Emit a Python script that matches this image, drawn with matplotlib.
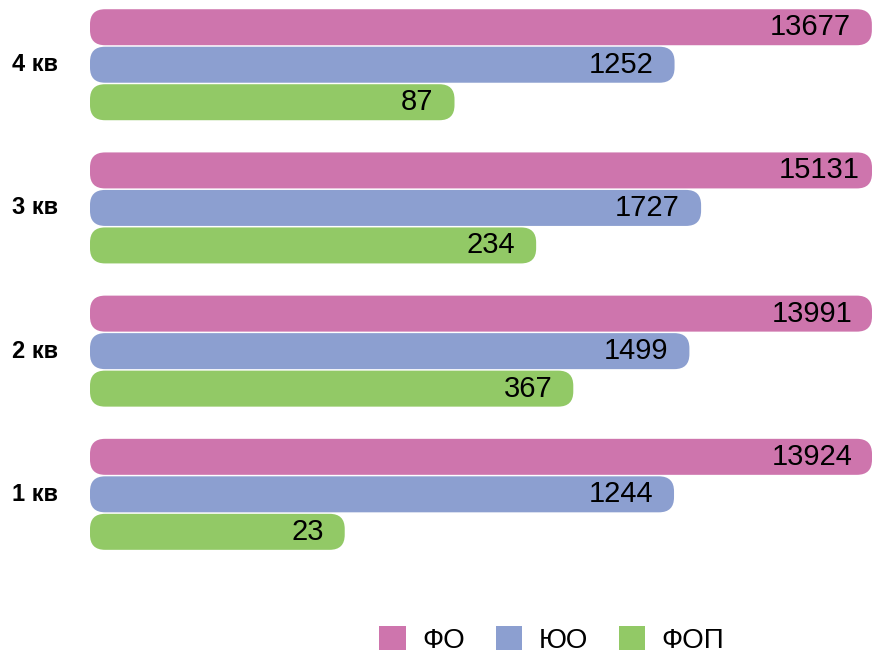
import matplotlib.pyplot as plt
from matplotlib.patches import FancyBboxPatch, Patch
from matplotlib.transforms import IdentityTransform

# quarterly counts, bottom to top
quarters = ['1 кв', '2 кв', '3 кв', '4 кв']
fo = [13924, 13991, 15131, 13677]
yuo = [1244, 1499, 1727, 1252]
fop = [23, 367, 234, 87]

series_names = ['ФО', 'ЮО', 'ФОП']
colors = ['#CE75AD', '#8C9FD0', '#92C966']

plt.rcParams['font.family'] = ['Liberation Sans', 'DejaVu Sans']

fig = plt.figure(figsize=(8.72, 6.55), dpi=100)
ax = fig.add_axes([90 / 872, 0, 1 - 90 / 872, 1])
ax.set_xscale('log')
ax.set_xlim(1.05, 13700)
ax.set_ylim(-1.122, 3.452)
ax.axis('off')

pitch = 37.5 / 143.2
height = 36 / 143.2
offsets = [pitch, 0, -pitch]
x0 = ax.get_xlim()[0]

bars = []
for vals, off, c in zip([fo, yuo, fop], offsets, colors):
    ys = [i + off for i in range(len(quarters))]
    cont = ax.barh(ys, [v - x0 for v in vals], left=x0, height=height, color=c)
    bars.append(cont)
    for v, y in zip(vals, ys):
        ax.annotate(str(v), xy=(v, y), xytext=(-21, 0), textcoords='offset pixels',
                    ha='right', va='center', fontsize=21, color='black',
                    annotation_clip=False, zorder=5)

# swap plain bars for rounded ones (in pixel space)
fig.canvas.draw()
right = ax.get_window_extent().x1
for cont in bars:
    for b in cont:
        bb = b.get_window_extent()
        x1 = min(bb.x1, right)
        rp = FancyBboxPatch((bb.x0, bb.y0), x1 - bb.x0, bb.height,
                            boxstyle='round,pad=0,rounding_size=15',
                            facecolor=b.get_facecolor(), edgecolor='none',
                            transform=IdentityTransform(), zorder=2, clip_on=False)
        ax.add_artist(rp)
        b.set_visible(False)

# quarter labels on the left
for i, q in enumerate(quarters):
    y_fig = fig.transFigure.inverted().transform(ax.transData.transform((1, i)))[1]
    fig.text(12 / 872, y_fig, q, ha='left', va='center', fontsize=17, fontweight='bold')

handles = [Patch(facecolor=c, edgecolor='none') for c in colors]
fig.legend(handles, series_names, loc='center', bbox_to_anchor=(552 / 872, 1 - 640 / 655),
           ncol=3, frameon=False, fontsize=20, handlelength=0.95, handleheight=0.95,
           handletextpad=0.6, columnspacing=1.1)

fig.savefig('out.png', dpi=100)
